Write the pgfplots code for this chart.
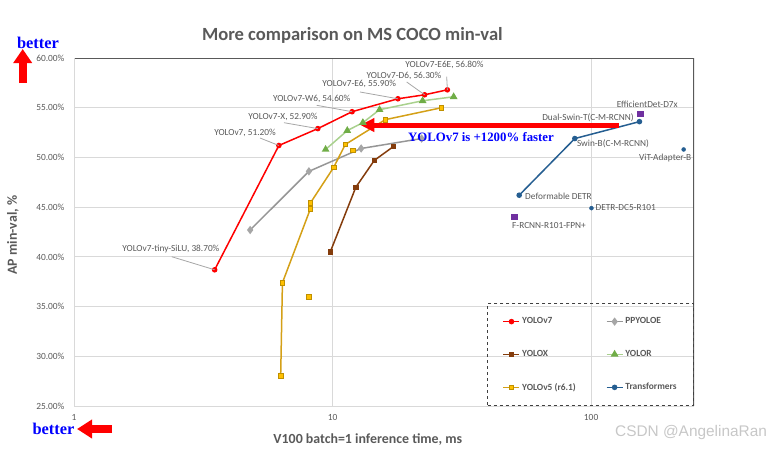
\documentclass[border=0pt]{standalone}
\usepackage{pgfplots}
\pgfplotsset{compat=1.18}
\usepackage{fontspec}
\setmainfont{Carlito}
\newfontfamily\serifb{Liberation Serif}
\newfontfamily\wmfont{Liberation Sans}
\usetikzlibrary{arrows.meta}
\definecolor{txtgray}{HTML}{595959}
\definecolor{gridgray}{HTML}{D9D9D9}
\definecolor{leadgray}{HTML}{A6A6A6}
\definecolor{cv7}{HTML}{FF0000}
\definecolor{cpp}{HTML}{969696}
\definecolor{cppm}{HTML}{A6A6A6}
\definecolor{cx}{HTML}{843C0C}
\definecolor{cr}{HTML}{A9D18E}
\definecolor{crm}{HTML}{70AD47}
\definecolor{cfive}{HTML}{D4A017}
\definecolor{cfivem}{HTML}{FFC000}
\definecolor{cfivee}{HTML}{BF9000}
\definecolor{ct}{HTML}{255E91}
\definecolor{cpu}{HTML}{7030A0}
\definecolor{betterblue}{HTML}{0000FF}
\tikzset{lbl/.style={inner sep=0pt, text=txtgray, font=\fontsize{9.3}{10}\selectfont},
  lead/.style={leadgray, line width=0.8pt}}
\begin{document}
\begin{tikzpicture}
\useasboundingbox (0pt,0pt) rectangle (784pt,451pt);
\begin{axis}[
  at={(74pt,45pt)}, anchor=south west,
  width=620pt, height=348pt, scale only axis,
  xmode=log, xmin=1, xmax=250, ymin=25, ymax=60,
  xtick={1,10,100}, xticklabels={1,10,100}, xminorticks=false,
  ytick={25,30,35,40,45,50,55,60},
  yticklabels={25.00\%,30.00\%,35.00\%,40.00\%,45.00\%,50.00\%,55.00\%,60.00\%},
  tick style={draw=none},
  ticklabel style={font=\fontsize{9.4}{10}\selectfont, text=txtgray},
  yticklabel style={xshift=-6pt},
  xticklabel style={yshift=-5pt},
  grid=major, major grid style={gridgray, line width=1pt},
  axis line style={draw=none},
  title={More comparison on MS COCO min-val},
  title style={font=\bfseries\fontsize{18.6}{20}\selectfont, text=txtgray, at={(axis description cs:0.449,1.047)}, anchor=center},
  xlabel={V100 batch=1 inference time, ms},
  xlabel style={font=\bfseries\fontsize{13.9}{15}\selectfont, text=txtgray, at={(axis description cs:0.474,-0.0977)}, anchor=center},
  ylabel={AP min-val, \%},
  ylabel style={font=\bfseries\fontsize{13.9}{15}\selectfont, text=txtgray, at={(axis description cs:-0.0984,0.491)}, anchor=center},
  legend columns=2,
  legend cell align=left,
  legend image code/.code={\draw[mark repeat=2,mark phase=2,#1] plot coordinates {(0pt,0pt) (8pt,0pt) (16pt,0pt)};},
  legend style={at={(1,0)}, anchor=south east, draw=black!75, dashed, line width=0.8pt, fill=none,
    font=\bfseries\fontsize{9.4}{10}\selectfont, text=txtgray,
    inner xsep=15pt, inner ysep=12pt, row sep=21pt, column sep=0pt,
    /tikz/every even column/.append style={column sep=28pt}},
]
% YOLOv7
\addplot[cv7, solid, line width=1.5pt, mark=*, mark size=2pt, mark options={solid, fill=cv7}]
 coordinates {(3.5,38.7) (6.2,51.2) (8.77,52.9) (11.9,54.6) (17.9,55.9) (22.7,56.3) (27.8,56.8)};
\addlegendentry{YOLOv7}
% PPYOLOE
\addplot[cpp, solid, line width=1.5pt, mark=diamond*, mark size=3pt, mark options={solid, fill=cppm, draw=cppm}]
 coordinates {(4.8,42.7) (8.1,48.6) (12.9,50.9) (22.1,51.9)};
\addlegendentry{PPYOLOE}
% YOLOX
\addplot[cx, solid, line width=1.5pt, mark=square*, mark size=2pt, mark options={solid, fill=cx}]
 coordinates {(9.8,40.5) (12.3,47.0) (14.5,49.7) (17.2,51.1)};
\addlegendentry{YOLOX}
% YOLOR
\addplot[cr, solid, line width=1.5pt, mark=triangle*, mark size=3pt, mark options={solid, fill=crm, draw=crm}]
 coordinates {(9.4,50.8) (11.4,52.7) (13.1,53.5) (15.2,54.8) (22.3,55.7) (29.4,56.1)};
\addlegendentry{YOLOR}
% YOLOv5 r6.1
\addplot[cfive, solid, line width=1.5pt, mark=square*, mark size=2.3pt, mark options={solid, fill=cfivem, draw=cfivee, line width=0.8pt}]
 coordinates {(6.3,28.0) (6.4,37.4) (8.2,44.8) (8.2,45.4) (10.1,49.0) (11.2,51.3) (16.0,53.8) (26.4,55.0)};
\addlegendentry{YOLOv5 (r6.1)}
% Transformers
\addplot[ct, solid, line width=1.5pt, mark=*, mark size=2pt, mark options={solid, fill=ct}]
 coordinates {(52.7,46.2) (86.5,51.9) (153.8,53.6)};
\addlegendentry{Transformers}
% isolated points
\addplot[forget plot, only marks, mark=square*, mark size=2.3pt, mark options={solid, fill=cfivem, draw=cfivee, line width=0.8pt}]
 coordinates {(8.1,36.0) (12.0,50.7)};
\addplot[forget plot, only marks, mark=*, mark size=2pt, mark options={solid, fill=ct, draw=ct}]
 coordinates {(100.3,44.9) (228,50.8)};
\addplot[forget plot, only marks, mark=square*, mark size=2.6pt, mark options={solid, fill=cpu, draw=cpu}]
 coordinates {(154.8,54.4) (50.4,44.0)};
% frame top/right
\draw[txtgray, line width=1.2pt] (rel axis cs:0,1) -- (rel axis cs:1,1) -- (rel axis cs:1,0);
\draw[gridgray, line width=1pt] (rel axis cs:0,1) -- (rel axis cs:0,0) -- (rel axis cs:1,0);
% big arrow
\draw[cv7, line width=5pt, -{Triangle[length=14pt,width=13pt]}] (axis cs:128,53.26) -- (axis cs:12.8,53.26);
% named points for leaders
\coordinate (v0) at (axis cs:3.5,38.7);
\coordinate (v1) at (axis cs:6.2,51.2);
\coordinate (v2) at (axis cs:8.77,52.9);
\coordinate (v3) at (axis cs:11.9,54.6);
\coordinate (v4) at (axis cs:17.9,55.9);
\coordinate (v5) at (axis cs:22.7,56.3);
\coordinate (v6) at (axis cs:27.8,56.8);
\end{axis}
% leader lines and labels
\draw[lead] (171.7pt,194.3pt) -- (v0);
\draw[lead] (260pt,313pt) -- (v1);
\draw[lead] (284pt,328.3pt) -- (v2);
\draw[lead] (316.7pt,345.7pt) -- (v3);
\draw[lead] (360pt,359pt) -- (v4);
\draw[lead] (406.7pt,369pt) -- (v5);
\draw[lead] (446.7pt,374.3pt) -- (v6);
\node[lbl] at (170.9pt,201.7pt) {YOLOv7-tiny-SiLU, 38.70\%};
\node[lbl] at (245pt,318pt) {YOLOv7, 51.20\%};
\node[lbl] at (283pt,334.3pt) {YOLOv7-X, 52.90\%};
\node[lbl] at (311.7pt,351.7pt) {YOLOv7-W6, 54.60\%};
\node[lbl] at (359.2pt,366.7pt) {YOLOv7-E6, 55.90\%};
\node[lbl] at (404pt,375pt) {YOLOv7-D6, 56.30\%};
\node[lbl] at (444.5pt,386pt) {YOLOv7-E6E, 56.80\%};
\node[lbl] at (647.3pt,346.7pt) {EfficientDet-D7x};
\node[lbl] at (588pt,333.3pt) {Dual-Swin-T(C-M-RCNN)};
\node[lbl] at (613pt,307.7pt) {Swin-B(C-M-RCNN)};
\node[lbl] at (665.2pt,293pt) {ViT-Adapter-B};
\node[lbl] at (558.5pt,254.3pt) {Deformable DETR};
\node[lbl] at (625.7pt,243.3pt) {DETR-DC5-R101};
\node[lbl] at (549pt,225pt) {F-RCNN-R101-FPN+};
% annotation text
\node[anchor=west, inner sep=0pt, text=betterblue, font=\serifb\bfseries\fontsize{12.8}{14}\selectfont] at (408pt,314pt) {YOLOv7 is +1200\% faster};
% better markers
\node[inner sep=0pt, text=betterblue, font=\serifb\bfseries\fontsize{16.4}{17}\selectfont] at (38pt,408.3pt) {better};
\draw[cv7, line width=8pt, -{Triangle[length=14pt,width=18pt]}] (22.7pt,368pt) -- (22.7pt,402pt);
\node[inner sep=0pt, text=betterblue, font=\serifb\bfseries\fontsize{16.4}{17}\selectfont] at (53.5pt,22pt) {better};
\draw[cv7, line width=8pt, -{Triangle[length=15pt,width=18pt]}] (112pt,22pt) -- (77pt,22pt);
% watermark
\node[inner sep=0pt, text=black!22, font=\wmfont\fontsize{15.4}{16}\selectfont, anchor=west] at (615pt,18.3pt) {CSDN @AngelinaRan};
\end{tikzpicture}
\end{document}
